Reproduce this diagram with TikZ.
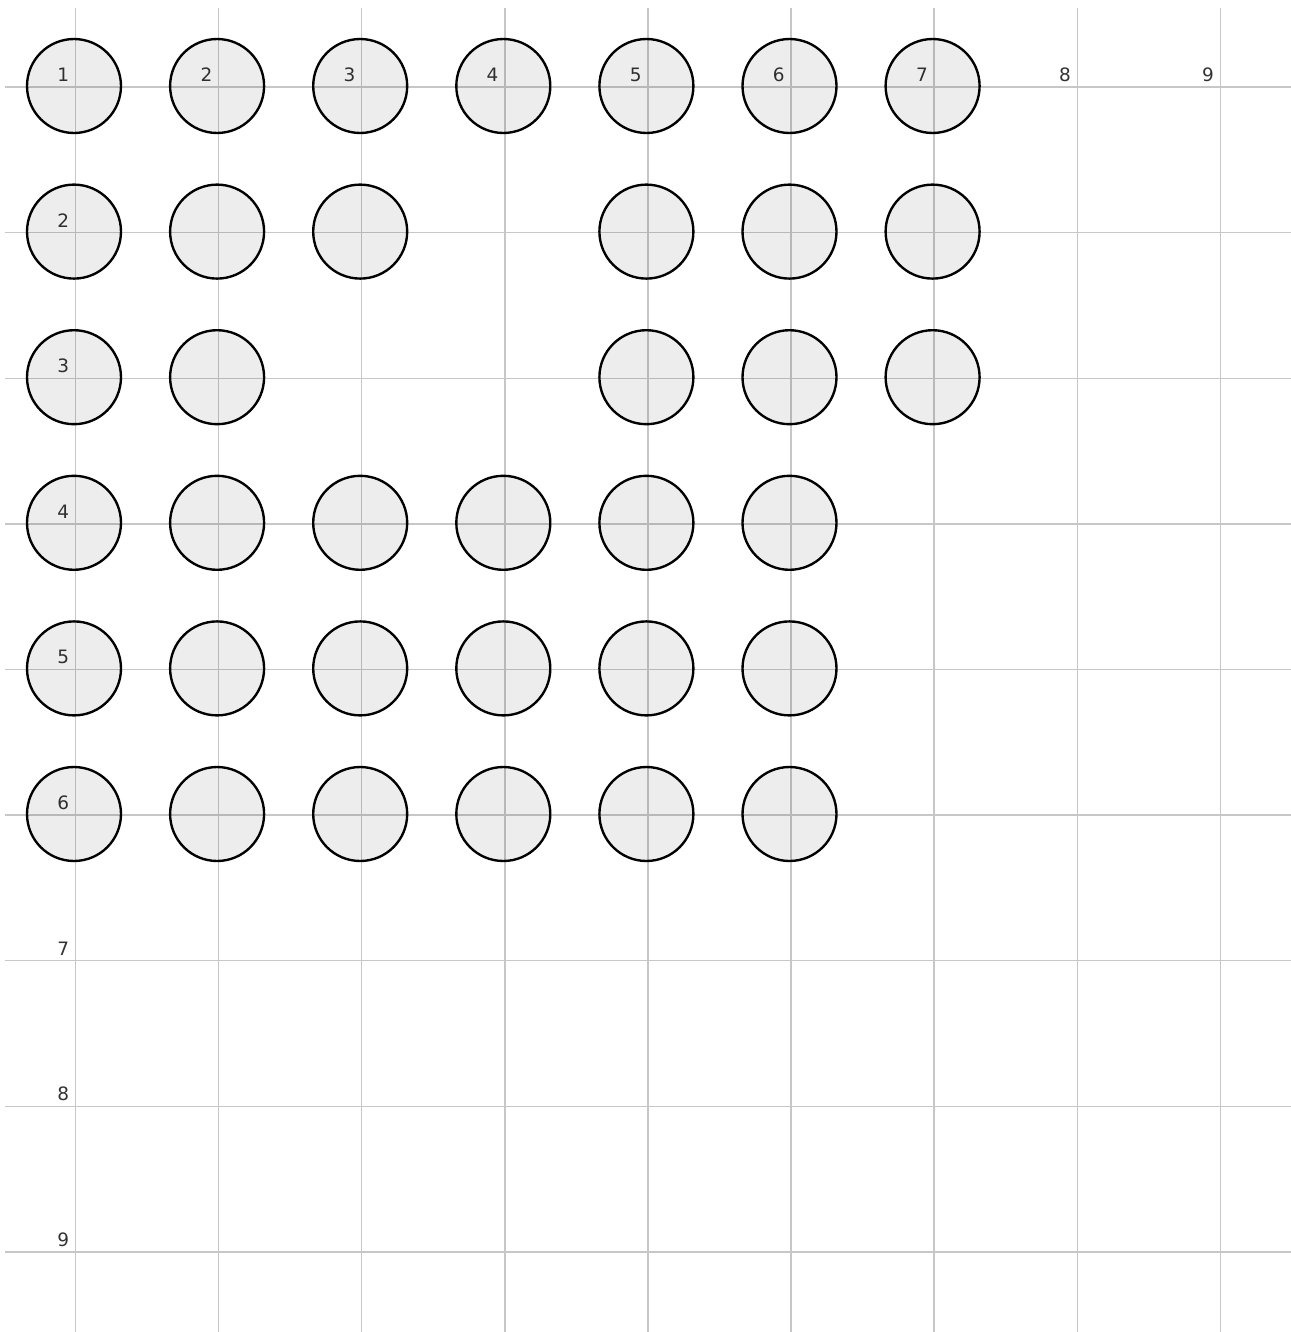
\documentclass[tikz,border=0pt]{standalone}
\usepackage{fontspec}
\setmainfont{DejaVu Sans}
\begin{document}
\begin{tikzpicture}[x=0.02cm,y=-0.02cm,
  gridline/.style={black!22,line width=0.8pt},
  peg/.style={circle,draw,line width=1.35pt,fill=black,fill opacity=0.07,minimum size=1.88cm,inner sep=0pt},
  idx/.style={anchor=south east,inner sep=0pt,font=\fontsize{10.5}{12}\selectfont,text=black!80}]
\useasboundingbox (0,0) rectangle (1291,1332);
% grid and indices
\foreach \i in {1,...,9}{
  \pgfmathsetmacro{\gx}{75.5+143.1*(\i-1)}
  \pgfmathsetmacro{\gy}{87+145.6*(\i-1)}
  \draw[gridline] (\gx,8) -- (\gx,1332);
  \draw[gridline] (5,\gy) -- (1291,\gy);
  \node[idx] (col-\i) at (\gx-6,82) {\i};
}
\foreach \i in {2,...,9}{
  \pgfmathsetmacro{\gy}{87+145.6*(\i-1)}
  \node[idx] (row-\i) at (69.5,\gy-5) {\i};
}
% pegs
\foreach \r/\cols in {1/{1,2,3,4,5,6,7},2/{1,2,3,5,6,7},3/{1,2,5,6,7},
                      4/{1,2,3,4,5,6},5/{1,2,3,4,5,6},6/{1,2,3,4,5,6}}{
  \foreach \c in \cols{
    \node[peg] (peg-\r-\c) at ({74+143.1*(\c-1)},{86+145.6*(\r-1)}) {};
  }
}
\end{tikzpicture}
\end{document}
